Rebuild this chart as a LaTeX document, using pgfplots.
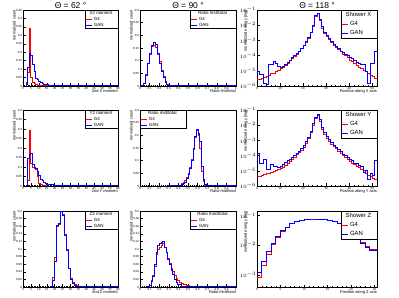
\documentclass[border=0pt]{standalone}
\usepackage{fontspec}
\setmainfont{Liberation Sans}
\usepackage{pgfplots}
\pgfplotsset{compat=1.18}
\pgfplotsset{
  rootax/.style={
    scale only axis, anchor=south west,
    axis line style={line width=0.7bp},
    tick align=inside, xtick pos=bottom, ytick pos=left,
    major tick length=2.5bp, minor tick length=1.3bp,
    tick style={black, line width=0.35bp},
    /pgf/number format/assume math mode=true,
    ticklabel style={font=\fontsize{3}{3}\selectfont, inner sep=0.8bp},
    scaled ticks=false,
    every axis x label/.style={at={(axis description cs:1,0)}, anchor=north east, yshift=-3.5bp, font=\fontsize{4}{4}\selectfont, inner sep=0pt},
    every axis y label/.style={at={(axis description cs:-0.075,1)}, rotate=90, anchor=south east, font=\fontsize{4}{4}\selectfont, inner sep=0pt},
    every axis title/.style={at={(axis description cs:0.5,1)}, anchor=south, font=\fontsize{8.5}{8.5}\selectfont, inner sep=1bp},
    legend image code/.code={\draw[#1, line width=0.9bp] (0bp,0bp) -- (6bp,0bp);},
    legend style={draw=black, line width=0.7bp, inner sep=0.5bp, outer sep=0pt, fill=white, cells={anchor=west}},
    yticklabel style={/pgf/number format/fixed},
    xticklabel style={/pgf/number format/fixed},
  },
  g4/.style={red, line width=0.9bp, const plot, mark=none},
  gan/.style={blue, line width=0.9bp, const plot, mark=none},
  smallleg/.style={legend style={font=\fontsize{4.5}{4.5}\selectfont, nodes={inner sep=0.5bp, minimum height=5.9bp}}},
  bigleg/.style={legend style={font=\fontsize{6}{6}\selectfont, nodes={inner sep=0.5bp, minimum height=9bp}}},
}
\begin{document}
\begin{tikzpicture}[x=1bp,y=1bp]
\useasboundingbox (0,0) rectangle (399,298);

% ---------------- Column 1 ----------------
\begin{axis}[rootax, at={(23bp,212bp)}, width=95bp, height=76bp,
  xmin=0, xmax=60, ymin=0, ymax=0.45,
  xtick={0,5,...,60}, ytick={0,0.05,0.1,0.15,0.2,0.25,0.3,0.35,0.4,0.45},
  minor x tick num=4, minor y tick num=4,
  title={Θ = 62 °}, xlabel={2nd X moment}, ylabel={normalized count},
  smallleg, legend style={at={(1,1)}, anchor=north east}]
\addlegendimage{empty legend}\addlegendentry{\makebox[24bp][c]{\hspace{-8bp}X2 moment}}
\addplot[g4] coordinates {(0,0) (2,0.02) (3,0.081) (4,0.34) (5,0.05) (6,0.022) (7,0.014) (8,0.008) (9,0.005) (10,0.003) (11,0.002) (12,0.001) (14,0.0005) (20,0) (60,0)};
\addlegendentry{\makebox[24bp][l]{\hspace{1bp}G4}}
\addplot[gan] coordinates {(0,0) (2,0.01) (3,0.11) (4,0.19) (5,0.18) (6,0.125) (7,0.085) (8,0.047) (9,0.036) (10,0.027) (11,0.02) (12,0.017) (13,0.012) (14,0.01) (16,0.006) (20,0.003) (27,0.001) (60,0.001)};
\addlegendentry{\makebox[24bp][l]{\hspace{1bp}GAN}}
\end{axis}

\begin{axis}[rootax, at={(23bp,112bp)}, width=95bp, height=76bp,
  xmin=0, xmax=60, ymin=0, ymax=0.4,
  xtick={0,5,...,60}, ytick={0,0.05,0.1,0.15,0.2,0.25,0.3,0.35,0.4},
  minor x tick num=4, minor y tick num=4,
  xlabel={2nd Y moment}, ylabel={normalized count},
  smallleg, legend style={at={(1,1)}, anchor=north east}]
\addlegendimage{empty legend}\addlegendentry{\makebox[24bp][c]{\hspace{-8bp}Y2 moment}}
\addplot[g4] coordinates {(0,0) (3,0.03) (4,0.29) (5,0.12) (6,0.1) (7,0.09) (8,0.085) (9,0.05) (10,0.012) (11,0.006) (12,0.003) (13,0.001) (15,0) (60,0)};
\addlegendentry{\makebox[24bp][l]{\hspace{1bp}G4}}
\addplot[gan] coordinates {(0,0) (3,0.145) (4,0.165) (5,0.172) (6,0.115) (7,0.1) (8,0.09) (9,0.075) (10,0.056) (11,0.035) (12,0.027) (13,0.02) (14,0.015) (15,0.01) (17,0.006) (20,0.003) (24,0.001) (60,0.001)};
\addlegendentry{\makebox[24bp][l]{\hspace{1bp}GAN}}
\end{axis}

\begin{axis}[rootax, at={(23bp,11bp)}, width=95bp, height=76bp,
  xmin=0, xmax=60, ymin=0, ymax=0.2,
  xtick={0,5,...,60}, ytick={0,0.02,0.04,0.06,0.08,0.1,0.12,0.14,0.16,0.18,0.2},
  minor x tick num=4, minor y tick num=1,
  xlabel={2nd Z moment}, ylabel={normalized count},
  smallleg, legend style={at={(1,1)}, anchor=north east}]
\addlegendimage{empty legend}\addlegendentry{\makebox[24bp][c]{\hspace{-8bp}Z2 moment}}
\addplot[g4] coordinates {(0,0) (17.25,0.002) (18.5,0.024) (19.75,0.078) (21,0.16) (22.25,0.164) (23.5,0.2) (24.75,0.19) (26,0.138) (27.25,0.098) (28.5,0.05) (29.75,0.023) (31,0.013) (32.25,0.006) (33.5,0.003) (35,0.002) (37,0.001) (41,0) (60,0)};
\addlegendentry{\makebox[24bp][l]{\hspace{1bp}G4}}
\addplot[gan] coordinates {(0,0) (17.25,0.001) (18.5,0.018) (19.75,0.068) (21,0.163) (22.25,0.166) (23.5,0.199) (24.75,0.187) (26,0.136) (27.25,0.096) (28.5,0.048) (29.75,0.02) (31,0.01) (32.25,0.004) (33.5,0.002) (35,0.001) (40,0.0005) (60,0.0005)};
\addlegendentry{\makebox[24bp][l]{\hspace{1bp}GAN}}
\end{axis}

% ---------------- Column 2 ----------------
\begin{axis}[rootax, at={(140bp,212bp)}, width=96bp, height=76bp,
  xmin=0, xmax=1, ymin=0, ymax=0.3,
  xtick={0,0.1,0.2,0.3,0.4,0.5,0.6,0.7,0.8,0.9,1}, ytick={0,0.05,0.1,0.15,0.2,0.25,0.3},
  minor x tick num=4, minor y tick num=4,
  title={Θ = 90 °}, xlabel={Ratio first/total}, ylabel={normalized count},
  smallleg, legend style={at={(1,1)}, anchor=north east}]
\addlegendimage{empty legend}\addlegendentry{\makebox[37bp][c]{\hspace{-8bp}Ratio first/total}}
\addplot[g4] coordinates {(0,0) (0.02,0.003) (0.04,0.012) (0.06,0.045) (0.08,0.09) (0.10,0.125) (0.12,0.155) (0.14,0.16) (0.16,0.152) (0.18,0.125) (0.20,0.095) (0.22,0.062) (0.24,0.036) (0.26,0.017) (0.28,0.007) (0.30,0.003) (0.32,0.001) (0.36,0.0005) (1,0.0005)};
\addlegendentry{\makebox[37bp][l]{\hspace{1bp}G4}}
\addplot[gan] coordinates {(0,0) (0.02,0.002) (0.04,0.01) (0.06,0.042) (0.08,0.09) (0.10,0.13) (0.12,0.162) (0.14,0.171) (0.16,0.163) (0.18,0.13) (0.20,0.09) (0.22,0.058) (0.24,0.032) (0.26,0.014) (0.28,0.006) (0.30,0.002) (0.32,0.001) (0.36,0.0005) (1,0.0005)};
\addlegendentry{\makebox[37bp][l]{\hspace{1bp}GAN}}
\end{axis}

\begin{axis}[rootax, at={(140bp,112bp)}, width=96bp, height=76bp,
  xmin=0, xmax=1, ymin=0, ymax=0.3,
  xtick={0,0.1,0.2,0.3,0.4,0.5,0.6,0.7,0.8,0.9,1}, ytick={0,0.05,0.1,0.15,0.2,0.25,0.3},
  minor x tick num=4, minor y tick num=4,
  xlabel={Ratio mid/total}, ylabel={normalized count},
  smallleg, legend style={at={(0,1)}, anchor=north west}]
\addlegendimage{empty legend}\addlegendentry{\makebox[37bp][c]{\hspace{-8bp}Ratio mid/total}}
\addplot[g4] coordinates {(0,0) (0.30,0.001) (0.40,0.004) (0.43,0.009) (0.45,0.014) (0.465,0.02) (0.4825,0.032) (0.50,0.05) (0.5175,0.075) (0.535,0.105) (0.5525,0.145) (0.57,0.19) (0.5875,0.22) (0.605,0.2) (0.6225,0.15) (0.64,0.057) (0.6575,0.018) (0.675,0.004) (0.6925,0.001) (0.72,0) (1,0)};
\addlegendentry{\makebox[37bp][l]{\hspace{1bp}G4}}
\addplot[gan] coordinates {(0,0) (0.30,0.001) (0.40,0.003) (0.43,0.006) (0.45,0.01) (0.465,0.015) (0.4825,0.03) (0.50,0.044) (0.5175,0.07) (0.535,0.10) (0.5525,0.15) (0.57,0.195) (0.5875,0.224) (0.605,0.208) (0.6225,0.175) (0.64,0.076) (0.6575,0.024) (0.675,0.006) (0.6925,0.001) (0.72,0.0005) (1,0.0005)};
\addlegendentry{\makebox[37bp][l]{\hspace{1bp}GAN}}
\end{axis}

\begin{axis}[rootax, at={(140bp,11bp)}, width=96bp, height=76bp,
  xmin=0, xmax=1, ymin=0, ymax=0.2,
  xtick={0,0.1,0.2,0.3,0.4,0.5,0.6,0.7,0.8,0.9,1}, ytick={0,0.02,0.04,0.06,0.08,0.1,0.12,0.14,0.16,0.18,0.2},
  minor x tick num=4, minor y tick num=1,
  xlabel={Ratio third/total}, ylabel={normalized count},
  smallleg, legend style={at={(1,1)}, anchor=north east}]
\addlegendimage{empty legend}\addlegendentry{\makebox[37bp][c]{\hspace{-8bp}Ratio third/total}}
\addplot[g4] coordinates {(0,0) (0.08,0.001) (0.1,0.005) (0.115,0.016) (0.1325,0.03) (0.15,0.055) (0.1675,0.085) (0.185,0.1) (0.2025,0.105) (0.22,0.11) (0.2375,0.115) (0.255,0.104) (0.2725,0.092) (0.29,0.075) (0.3075,0.062) (0.325,0.05) (0.3425,0.04) (0.36,0.03) (0.3775,0.022) (0.395,0.016) (0.4125,0.012) (0.43,0.009) (0.4475,0.006) (0.48,0.004) (0.52,0.002) (0.57,0.0008) (0.65,0.0003) (1,0.0003)};
\addlegendentry{\makebox[37bp][l]{\hspace{1bp}G4}}
\addplot[gan] coordinates {(0,0) (0.08,0.001) (0.1,0.004) (0.115,0.014) (0.1325,0.028) (0.15,0.06) (0.1675,0.09) (0.185,0.11) (0.2025,0.114) (0.22,0.116) (0.2375,0.12) (0.255,0.104) (0.2725,0.09) (0.29,0.072) (0.3075,0.06) (0.325,0.044) (0.3425,0.034) (0.36,0.02) (0.3775,0.012) (0.395,0.006) (0.43,0.002) (0.48,0.0005) (1,0.0005)};
\addlegendentry{\makebox[37bp][l]{\hspace{1bp}GAN}}
\end{axis}

% ---------------- Column 3 ----------------
\begin{axis}[rootax, at={(257bp,212bp)}, width=120bp, height=76bp,
  xmin=0, xmax=52, ymode=log, ymin=1e-6, ymax=1e-1,
  ytick={1e-6,1e-5,1e-4,1e-3,1e-2,1e-1},
  xtick={0,10,20,30,40,50}, minor x tick num=4,
  title={Θ = 118 °}, xlabel={Position along X axis}, ylabel={normalized energy [log]},
  bigleg, legend style={at={(1,1)}, anchor=north east}]
\addlegendimage{empty legend}\addlegendentry{\makebox[27bp][c]{\hspace{-8bp}Shower X}}
\addplot[g4] coordinates {(0,2.51e-6) (1,2.82e-6) (2,3.16e-6) (3,3.55e-6) (4,4.47e-6) (5,5.01e-6) (6,6.31e-6) (7,7.08e-6) (8,8.91e-6) (9,1.12e-5) (10,1.41e-5) (11,1.78e-5) (12,2.24e-5) (13,3.16e-5) (14,4.47e-5) (15,6.31e-5) (16,8.91e-5) (17,1.26e-4) (18,1.78e-4) (19,2.82e-4) (20,4.47e-4) (21,7.08e-4) (22,1.41e-3) (23,3.16e-3) (24,8.91e-3) (25,3.55e-2) (26,5.62e-2) (27,2.00e-2) (28,6.31e-3) (29,2.82e-3) (30,1.78e-3) (31,1.12e-3) (32,7.08e-4) (33,5.01e-4) (34,3.55e-4) (35,2.51e-4) (36,1.78e-4) (37,1.26e-4) (38,1.00e-4) (39,7.08e-5) (40,5.01e-5) (41,3.98e-5) (42,3.16e-5) (43,2.24e-5) (44,1.78e-5) (45,1.41e-5) (46,1.12e-5) (47,8.91e-6) (48,6.31e-6) (49,5.01e-6) (50,3.98e-6) (51,3.16e-6) (52,3.16e-6)};
\addlegendentry{\makebox[27bp][l]{\hspace{1bp}G4}}
\addplot[gan] coordinates {(0,8.91e-6) (1,5.62e-6) (2,5.62e-6) (3,1.41e-6) (4,1.26e-6) (5,2.51e-5) (6,2.51e-5) (7,3.98e-5) (8,3.16e-5) (9,2.00e-5) (10,1.58e-5) (11,2.00e-5) (12,2.51e-5) (13,3.55e-5) (14,5.01e-5) (15,7.08e-5) (16,1.00e-4) (17,1.41e-4) (18,2.00e-4) (19,3.16e-4) (20,5.01e-4) (21,7.94e-4) (22,1.58e-3) (23,3.55e-3) (24,1.00e-2) (25,4.47e-2) (26,6.31e-2) (27,2.24e-2) (28,7.94e-3) (29,3.16e-3) (30,2.00e-3) (31,1.26e-3) (32,7.94e-4) (33,5.62e-4) (34,3.98e-4) (35,3.16e-4) (36,2.00e-4) (37,1.58e-4) (38,1.26e-4) (39,1.00e-4) (40,7.08e-5) (41,6.31e-5) (42,4.47e-5) (43,3.55e-5) (44,3.16e-5) (45,2.51e-5) (46,2.51e-5) (47,8.91e-6) (48,1.41e-6) (49,3.16e-5) (50,3.16e-5) (51,1.78e-4) (52,1.78e-4)};
\addlegendentry{\makebox[27bp][l]{\hspace{1bp}GAN}}
\end{axis}

\begin{axis}[rootax, at={(257bp,112bp)}, width=120bp, height=76bp,
  xmin=0, xmax=52, ymode=log, ymin=1e-6, ymax=1e-1,
  ytick={1e-6,1e-5,1e-4,1e-3,1e-2,1e-1},
  xtick={0,10,20,30,40,50}, minor x tick num=4,
  xlabel={Position along Y axis}, ylabel={normalized energy [log]},
  bigleg, legend style={at={(1,1)}, anchor=north east}]
\addlegendimage{empty legend}\addlegendentry{\makebox[27bp][c]{\hspace{-8bp}Shower Y}}
\addplot[g4] coordinates {(0,3.98e-6) (1,4.47e-6) (2,5.01e-6) (3,5.62e-6) (4,6.31e-6) (5,7.08e-6) (6,7.94e-6) (7,8.91e-6) (8,1.00e-5) (9,1.26e-5) (10,1.41e-5) (11,1.78e-5) (12,2.24e-5) (13,3.16e-5) (14,3.98e-5) (15,5.62e-5) (16,7.94e-5) (17,1.12e-4) (18,1.58e-4) (19,2.24e-4) (20,3.55e-4) (21,6.31e-4) (22,1.26e-3) (23,3.16e-3) (24,1.00e-2) (25,2.82e-2) (26,4.47e-2) (27,1.78e-2) (28,5.62e-3) (29,2.51e-3) (30,1.41e-3) (31,8.91e-4) (32,5.62e-4) (33,3.98e-4) (34,2.82e-4) (35,2.00e-4) (36,1.41e-4) (37,1.00e-4) (38,7.94e-5) (39,5.62e-5) (40,3.98e-5) (41,3.16e-5) (42,2.51e-5) (43,2.00e-5) (44,1.58e-5) (45,1.26e-5) (46,1.00e-5) (47,7.08e-6) (48,5.01e-6) (49,3.98e-6) (50,3.16e-6) (51,2.51e-6) (52,2.51e-6)};
\addlegendentry{\makebox[27bp][l]{\hspace{1bp}G4}}
\addplot[gan] coordinates {(0,1.41e-4) (1,3.16e-5) (2,3.16e-5) (3,5.62e-5) (4,1.26e-5) (5,1.26e-5) (6,2.51e-5) (7,2.00e-5) (8,2.00e-5) (9,1.58e-5) (10,2.00e-5) (11,2.51e-5) (12,3.55e-5) (13,4.47e-5) (14,5.62e-5) (15,7.08e-5) (16,1.00e-4) (17,1.41e-4) (18,2.00e-4) (19,2.82e-4) (20,4.47e-4) (21,7.94e-4) (22,1.58e-3) (23,3.98e-3) (24,1.26e-2) (25,3.16e-2) (26,5.01e-2) (27,2.24e-2) (28,7.08e-3) (29,3.16e-3) (30,1.78e-3) (31,1.12e-3) (32,7.08e-4) (33,5.01e-4) (34,3.55e-4) (35,2.51e-4) (36,1.78e-4) (37,1.26e-4) (38,1.00e-4) (39,7.08e-5) (40,5.62e-5) (41,4.47e-5) (42,3.16e-5) (43,3.16e-5) (44,2.24e-5) (45,2.00e-5) (46,7.94e-6) (47,1.00e-5) (48,2.51e-6) (49,6.31e-6) (50,5.01e-6) (51,5.01e-5) (52,5.01e-5)};
\addlegendentry{\makebox[27bp][l]{\hspace{1bp}GAN}}
\end{axis}

\begin{axis}[rootax, at={(257bp,11bp)}, width=120bp, height=76bp,
  xmin=0, xmax=25.5, ymode=log, ymin=3.98e-4, ymax=0.1413,
  ytick={1e-3,1e-2,1e-1},
  xtick={0,5,10,15,20,25}, minor x tick num=4,
  xlabel={Position along Z axis}, ylabel={normalized energy [log]},
  bigleg, legend style={at={(1,1)}, anchor=north east}]
\addlegendimage{empty legend}\addlegendentry{\makebox[27bp][c]{\hspace{-8bp}Shower Z}}
\addplot[g4] coordinates {(0,8.05e-4) (1,2.06e-3) (2,4.97e-3) (3,1.067e-2) (4,1.81e-2) (5,2.89e-2) (6,3.88e-2) (7,5.21e-2) (8,6.21e-2) (9,6.98e-2) (10,7.41e-2) (11,7.62e-2) (12,7.62e-2) (13,7.41e-2) (14,7.19e-2) (15,6.78e-2) (16,6.21e-2) (17,5.52e-2) (18,5.21e-2) (19,3.88e-2) (20,2.73e-2) (21,1.81e-2) (22,1.20e-2) (23,9.48e-3) (24,7.50e-3) (25.5,7.50e-3)};
\addlegendentry{\makebox[27bp][l]{\hspace{1bp}G4}}
\addplot[gan] coordinates {(0,1.215e-3) (1,2.76e-3) (2,6.29e-3) (3,1.13e-2) (4,1.92e-2) (5,3.07e-2) (6,4.00e-2) (7,5.36e-2) (8,6.40e-2) (9,6.98e-2) (10,7.41e-2) (11,7.62e-2) (12,7.62e-2) (13,7.41e-2) (14,7.19e-2) (15,6.78e-2) (16,6.21e-2) (17,5.52e-2) (18,5.21e-2) (19,3.88e-2) (20,2.73e-2) (21,1.81e-2) (22,1.13e-2) (23,8.43e-3) (24,6.67e-3) (25.5,6.67e-3)};
\addlegendentry{\makebox[27bp][l]{\hspace{1bp}GAN}}
\end{axis}
\end{tikzpicture}
\end{document}
